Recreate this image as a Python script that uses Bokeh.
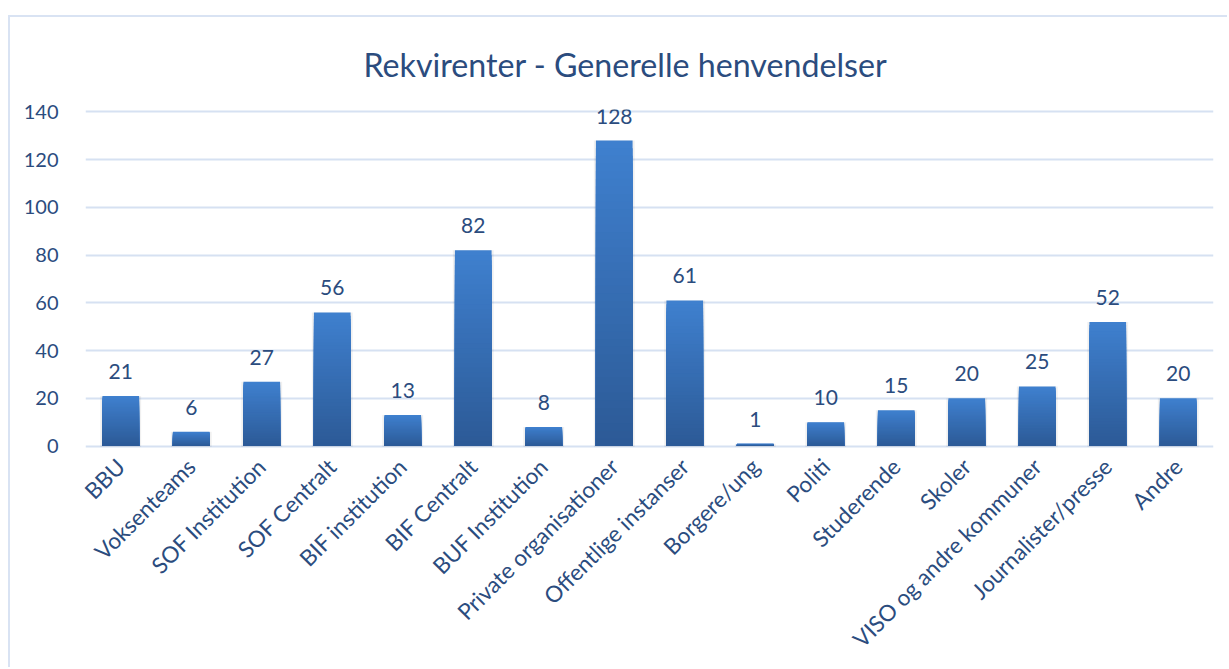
import numpy as np
from bokeh.plotting import figure
from bokeh.models import ColumnDataSource, LabelSet, Range1d, FixedTicker, Spacer
from bokeh.layouts import column, row
from bokeh.embed import file_html
from bokeh.resources import INLINE
from bokeh.core.properties import value

categories = ["BBU", "Voksenteams", "SOF Institution", "SOF Centralt", "BIF institution",
              "BIF Centralt", "BUF Institution", "Private organisationer", "Offentlige instanser",
              "Borgere/ung", "Politi", "Studerende", "Skoler", "VISO og andre kommuner",
              "Journalister/presse", "Andre"]
counts = [21, 6, 27, 56, 13, 82, 8, 128, 61, 1, 10, 15, 20, 25, 52, 20]
y_ticks = [0, 20, 40, 60, 80, 100, 120, 140]

FONT = "Lato"
TXT = "#2b4c7e"
GRID = "#d6e1f2"

p = figure(x_range=categories, y_range=Range1d(-1, 141), width=1219, height=652,
           output_backend="svg", toolbar_location=None,
           min_border_left=75, min_border_right=16, min_border_top=91, min_border_bottom=221)
p.styles = {"border-top": "2px solid #d9e3f3", "border-left": "2px solid #d9e3f3"}

p.title.text = "Rekvirenter - Generelle henvendelser"
p.title.align = "left"
p.title.text_font = FONT
p.title.text_font_size = "32.2px"
p.title.text_font_style = "normal"
p.title.text_color = TXT
p.title.offset = 278
p.title.standoff = 51

# gradient bars: overlapping slices (tallest first) to avoid seams
top_c = np.array([0x3f, 0x80, 0xcf], dtype=float)
bot_c = np.array([0x2c, 0x5a, 0x96], dtype=float)
N = 40
xs, tops, colors = [], [], []
for i in reversed(range(N)):
    f0, f1 = i / N, (i + 1) / N
    t = (f0 + f1) / 2
    c = bot_c * (1 - t) + top_c * t
    col = "#%02x%02x%02x" % tuple(int(round(k)) for k in c)
    for cat, v in zip(categories, counts):
        xs.append(cat)
        tops.append(v * f1)
        colors.append(col)

# soft shadow
p.vbar(x=categories, top=counts, width=0.58, bottom=-0.4, fill_color="#000000",
       fill_alpha=0.06, line_color=None)
slices = ColumnDataSource(dict(x=xs, top=tops, color=colors))
p.vbar(x="x", bottom=0, top="top", width=0.52, fill_color="color",
       line_color=None, source=slices)

src = ColumnDataSource(dict(x=categories, y=counts, label=[str(c) for c in counts]))
p.add_layout(LabelSet(x="x", y="y", text="label", source=src, text_align="center",
                      text_baseline="alphabetic", y_offset=17, text_font=value(FONT),
                      text_font_size="21px", text_color=TXT))

p.xgrid.grid_line_color = None
p.ygrid.grid_line_color = GRID
p.ygrid.grid_line_width = 2
p.yaxis.ticker = FixedTicker(ticks=y_ticks)
p.outline_line_color = None

for ax in (p.xaxis[0], p.yaxis[0]):
    ax.axis_line_color = None
    ax.major_tick_line_color = None
    ax.minor_tick_line_color = None
    ax.major_label_text_font = FONT
    ax.major_label_text_color = TXT

p.yaxis.major_label_text_font_size = "20px"
p.xaxis.major_label_text_font_size = "22.5px"
p.yaxis.major_label_standoff = 21
p.xaxis.major_label_orientation = np.pi / 4
p.xaxis.major_label_standoff = 8

layout = column(Spacer(height=15, width=1229), row(Spacer(width=8, height=652), p))
open("out.html", "w").write(file_html(layout, INLINE))
